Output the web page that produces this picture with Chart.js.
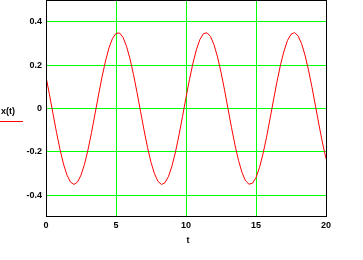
<!DOCTYPE html>
<html>
<head>
<meta charset="utf-8">
<script src="https://cdn.jsdelivr.net/npm/chart.js@4/dist/chart.umd.min.js"></script>
<style>
  html, body { margin: 0; padding: 0; background: #fff; }
  #wrap { width: 363px; height: 260px; position: relative; }
</style>
</head>
<body>
<div id="wrap"><canvas id="c" width="363" height="260"></canvas></div>
<script>
// Sample times t and curve values x(t)
const tValues = [0,0.25,0.5,0.75,1,1.25,1.5,1.75,2,2.25,2.5,2.75,3,3.25,3.5,3.75,4,4.25,4.5,4.75,
  5,5.25,5.5,5.75,6,6.25,6.5,6.75,7,7.25,7.5,7.75,8,8.25,8.5,8.75,9,9.25,9.5,9.75,
  10,10.25,10.5,10.75,11,11.25,11.5,11.75,12,12.25,12.5,12.75,13,13.25,13.5,13.75,14,14.25,14.5,14.75,
  15,15.25,15.5,15.75,16,16.25,16.5,16.75,17,17.25,17.5,17.75,18,18.25,18.5,18.75,19,19.25,19.5,19.75,20];
const xValues = [0.146,0.063,-0.024,-0.110,-0.189,-0.256,-0.307,-0.339,-0.350,-0.339,-0.307,-0.257,-0.190,-0.111,-0.025,0.062,0.145,0.219,0.280,0.323,
  0.346,0.348,0.328,0.287,0.229,0.156,0.074,-0.013,-0.099,-0.179,-0.248,-0.301,-0.336,-0.350,-0.342,-0.313,-0.264,-0.200,-0.122,-0.037,
  0.051,0.134,0.210,0.273,0.319,0.345,0.349,0.332,0.294,0.238,0.167,0.086,-0.001,-0.088,-0.169,-0.239,-0.295,-0.333,-0.349,-0.344,
  -0.318,-0.272,-0.209,-0.133,-0.048,0.039,0.124,0.201,0.265,0.314,0.342,0.350,0.335,0.300,0.246,0.177,0.097,0.011,-0.076,-0.159,-0.231];
const tTicks = [0, 5, 10, 15, 20];
const yTicks = [-0.4, -0.2, 0, 0.2, 0.4];
const xAxisTitle = 't';
const yAxisTitle = 'x(t)';

const points = tValues.map((t, i) => ({ x: t, y: xValues[i] }));
const tickFont = { family: "'Liberation Sans', Arial, sans-serif", size: 9, weight: 'bold' };

const frameAndLabels = {
  id: 'frameAndLabels',
  afterDraw(chart) {
    const ctx = chart.ctx, a = chart.chartArea;
    ctx.save();
    ctx.strokeStyle = '#000';
    ctx.lineWidth = 1;
    ctx.strokeRect(Math.round(a.left) + 0.5, Math.round(a.top) + 0.5,
      Math.round(a.right) - Math.round(a.left), Math.round(a.bottom) - Math.round(a.top) - 1);
    ctx.fillStyle = '#000';
    ctx.font = "bold 9px 'Liberation Sans', Arial, sans-serif";
    ctx.textBaseline = 'alphabetic';
    ctx.textAlign = 'left';
    ctx.fillText(yAxisTitle, 1, 114);
    ctx.strokeStyle = '#ff0000';
    ctx.beginPath();
    ctx.moveTo(0, 121.5);
    ctx.lineTo(23, 121.5);
    ctx.stroke();
    ctx.textAlign = 'center';
    ctx.fillText(xAxisTitle, (a.left + a.right) / 2 + 2, 243);
    ctx.restore();
  }
};

new Chart(document.getElementById('c'), {
  type: 'line',
  data: {
    datasets: [{
      data: points,
      borderColor: '#ff0000',
      borderWidth: 1,
      pointRadius: 0,
      tension: 0,
      fill: false
    }]
  },
  options: {
    responsive: false,
    animation: false,
    devicePixelRatio: 1,
    layout: { padding: { left: 0, right: 37, top: 0, bottom: 0 } },
    plugins: { legend: { display: false }, tooltip: { enabled: false }, title: { display: false } },
    scales: {
      x: {
        type: 'linear',
        min: 0, max: 20,
        afterBuildTicks(scale) { scale.ticks = tTicks.map(v => ({ value: v })); },
        afterFit(scale) { scale.height = 43; scale.paddingLeft = 0; scale.paddingRight = 0; },
        grid: { color: '#00ff00', lineWidth: 1, drawTicks: false },
        border: { display: false },
        ticks: { color: '#000', font: tickFont, padding: 3, maxRotation: 0, autoSkip: false,
          callback: v => String(v) }
      },
      y: {
        type: 'linear',
        min: -0.5, max: 0.5,
        afterBuildTicks(scale) { scale.ticks = yTicks.map(v => ({ value: v })); },
        afterFit(scale) { scale.width = 46; scale.paddingTop = 0; scale.paddingBottom = 0; },
        grid: { color: '#00ff00', lineWidth: 1, drawTicks: false },
        border: { display: false },
        ticks: { color: '#000', font: tickFont, padding: 4, autoSkip: false,
          callback: v => String(v) }
      }
    }
  },
  plugins: [frameAndLabels]
});
</script>
</body>
</html>
